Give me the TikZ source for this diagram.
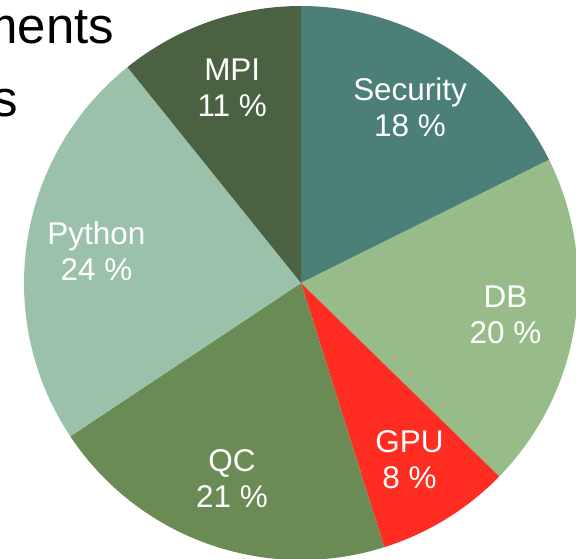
\documentclass[tikz,border=0pt]{standalone}
\usepackage{fontspec}
\setmainfont{Liberation Sans}
\definecolor{cSecurity}{HTML}{4B7F77}
\definecolor{cDB}{HTML}{97BC89}
\definecolor{cGPU}{HTML}{FF2D21}
\definecolor{cQC}{HTML}{6A8C54}
\definecolor{cPython}{HTML}{9BC1AB}
\definecolor{cMPI}{HTML}{4B6242}
\begin{document}
\begin{tikzpicture}[%
    lbl/.style={text=white,align=center,font=\fontsize{17.9}{20.4}\selectfont},
    slide/.style={anchor=base east,inner sep=0pt,font=\fontsize{29}{34}\selectfont}
  ]
  \useasboundingbox (-6.02,-5.50) rectangle (5.50,5.66);

  % slide text behind the chart
  \node at (-3.73,4.80) [slide] (line1) {ments};
  \node at (-5.65,3.34) [slide] (line2) {s};

  % slices
  \fill[cSecurity] (0,0) -- (90:5.54) arc (90:26.4:5.54) -- cycle;
  \fill[cDB] (0,0) -- (26.4:5.54) arc (26.4:-44.3:5.54) -- cycle;
  \fill[cGPU] (0,0) -- (-44.3:5.54) arc (-44.3:-72.5:5.54) -- cycle;
  \fill[cQC] (0,0) -- (-72.5:5.54) arc (-72.5:-146.4:5.54) -- cycle;
  \fill[cPython] (0,0) -- (-146.4:5.54) arc (-146.4:-231.2:5.54) -- cycle;
  \fill[cMPI] (0,0) -- (128.8:5.54) arc (128.8:90:5.54) -- cycle;

  % labels
  \node at (58.2:4.14) [lbl] (security) {Security\\18 \%};
  \node at (-8.95:4.14) [lbl] (db) {DB\\20 \%};
  \node at (-58.4:4.14) [lbl] (gpu) {GPU\\8 \%};
  \node at (-109.45:4.14) [lbl] (qc) {QC\\21 \%};
  \node at (171.2:4.14) [lbl] (python) {Python\\24 \%};
  \node at (109.4:4.14) [lbl] (mpi) {MPI\\11 \%};
\end{tikzpicture}
\end{document}
